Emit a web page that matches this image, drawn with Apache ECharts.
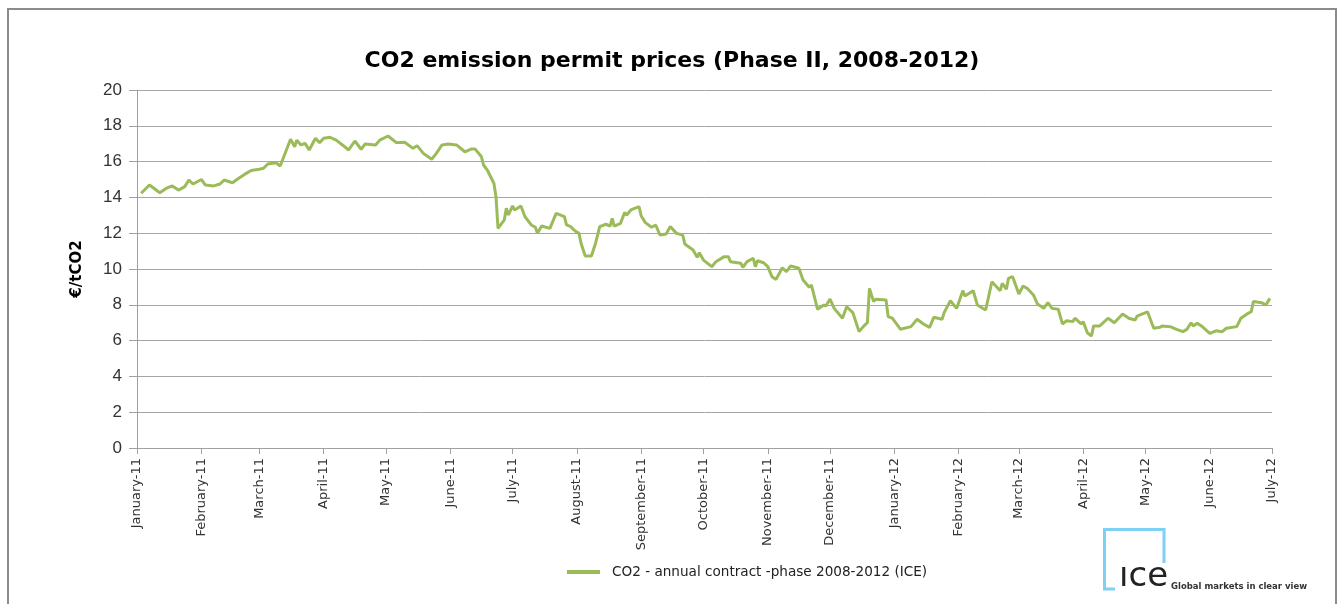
<!DOCTYPE html>
<html>
<head>
<meta charset="utf-8">
<script src="https://cdn.jsdelivr.net/npm/echarts@6/dist/echarts.min.js"></script>
<style>
html,body{margin:0;padding:0;background:#fff;}
#chart{width:1344px;height:604px;}
</style>
</head>
<body>
<div id="chart"></div>
<script>
const seriesName = 'CO2 - annual contract -phase 2008-2012 (ICE)';
const monthLabels = ['January-11','February-11','March-11','April-11','May-11','June-11','July-11','August-11','September-11','October-11','November-11','December-11','January-12','February-12','March-12','April-12','May-12','June-12','July-12'];
const yTicks = [0,2,4,6,8,10,12,14,16,18,20];
const dates = [
'2011-01-03','2011-01-07','2011-01-12','2011-01-15','2011-01-18','2011-01-21','2011-01-24','2011-01-26','2011-01-28',
'2011-02-01','2011-02-03','2011-02-07','2011-02-10','2011-02-12','2011-02-16','2011-02-19','2011-02-22','2011-02-25',
'2011-03-01','2011-03-03','2011-03-05','2011-03-09','2011-03-11','2011-03-14','2011-03-16','2011-03-18','2011-03-19','2011-03-21','2011-03-23','2011-03-25','2011-03-28','2011-03-30',
'2011-04-01','2011-04-04','2011-04-07','2011-04-10','2011-04-13','2011-04-16','2011-04-19','2011-04-21','2011-04-26','2011-04-28',
'2011-05-02','2011-05-06','2011-05-10','2011-05-14','2011-05-16','2011-05-19','2011-05-23','2011-05-25','2011-05-28','2011-05-31',
'2011-06-04','2011-06-08','2011-06-11','2011-06-13','2011-06-16','2011-06-17','2011-06-19','2011-06-20','2011-06-22','2011-06-23','2011-06-24','2011-06-27','2011-06-28','2011-06-29',
'2011-07-01','2011-07-02','2011-07-05','2011-07-07','2011-07-10','2011-07-12','2011-07-13','2011-07-15','2011-07-19','2011-07-22','2011-07-26','2011-07-27','2011-07-29','2011-07-31',
'2011-08-02','2011-08-03','2011-08-05','2011-08-08','2011-08-10','2011-08-12','2011-08-15','2011-08-17','2011-08-18','2011-08-19','2011-08-22','2011-08-24','2011-08-25','2011-08-27','2011-08-31',
'2011-09-01','2011-09-03','2011-09-06','2011-09-08','2011-09-10','2011-09-13','2011-09-15','2011-09-18','2011-09-21','2011-09-22','2011-09-26','2011-09-28','2011-09-29',
'2011-10-01','2011-10-05','2011-10-07','2011-10-11','2011-10-13','2011-10-14','2011-10-19','2011-10-20','2011-10-22','2011-10-25','2011-10-26','2011-10-27','2011-10-30',
'2011-11-01','2011-11-03','2011-11-05','2011-11-08','2011-11-10','2011-11-12','2011-11-16','2011-11-18','2011-11-21','2011-11-22','2011-11-25','2011-11-28','2011-11-29',
'2011-12-01','2011-12-03','2011-12-07','2011-12-09','2011-12-12','2011-12-15','2011-12-17','2011-12-19','2011-12-20','2011-12-22','2011-12-23','2011-12-28','2011-12-29','2011-12-31',
'2012-01-04','2012-01-09','2012-01-12','2012-01-15','2012-01-18','2012-01-20','2012-01-24','2012-01-25','2012-01-28','2012-01-31',
'2012-02-03','2012-02-04','2012-02-08','2012-02-10','2012-02-14','2012-02-17','2012-02-21','2012-02-22','2012-02-24','2012-02-25','2012-02-27',
'2012-03-01','2012-03-03','2012-03-05','2012-03-08','2012-03-10','2012-03-13','2012-03-15','2012-03-17','2012-03-20','2012-03-21','2012-03-22','2012-03-24','2012-03-27','2012-03-28','2012-03-31',
'2012-04-01','2012-04-03','2012-04-05','2012-04-06','2012-04-09','2012-04-13','2012-04-16','2012-04-20','2012-04-23','2012-04-26','2012-04-27',
'2012-05-02','2012-05-05','2012-05-08','2012-05-09','2012-05-13','2012-05-16','2012-05-19','2012-05-21','2012-05-23','2012-05-24','2012-05-26','2012-05-28',
'2012-06-01','2012-06-04','2012-06-07','2012-06-09','2012-06-14','2012-06-16','2012-06-19','2012-06-21','2012-06-22','2012-06-26','2012-06-28','2012-06-30'
];
const prices = [
14.23,14.69,14.26,14.50,14.64,14.41,14.60,14.97,14.75,
15.00,14.69,14.64,14.75,14.97,14.82,15.07,15.30,15.50,
15.57,15.63,15.87,15.94,15.75,16.65,17.25,16.83,17.20,16.93,17.02,16.65,17.30,17.06,
17.30,17.36,17.20,16.93,16.65,17.15,16.69,16.98,16.93,17.20,
17.43,17.06,17.08,16.74,16.89,16.46,16.13,16.42,16.93,16.98,
16.93,16.55,16.70,16.70,16.27,15.81,15.49,15.25,14.79,14.04,12.27,12.74,13.39,13.02,
13.52,13.30,13.52,12.92,12.46,12.33,12.00,12.40,12.27,13.11,12.92,12.46,12.37,12.14,
11.99,11.44,10.73,10.73,11.44,12.37,12.50,12.40,12.83,12.40,12.55,13.15,13.02,13.30,13.48,
12.96,12.59,12.33,12.46,11.90,11.96,12.37,11.99,11.90,11.40,11.06,10.65,10.91,
10.50,10.13,10.41,10.69,10.69,10.41,10.32,10.09,10.41,10.60,10.13,10.46,10.35,
10.13,9.57,9.42,10.07,9.85,10.17,10.04,9.39,8.98,9.11,7.75,7.99,7.93,
8.32,7.80,7.25,7.89,7.56,6.50,6.78,7.00,8.92,8.18,8.31,8.27,7.34,7.25,
6.63,6.78,7.19,6.93,6.74,7.30,7.19,7.56,8.23,7.80,
8.79,8.49,8.79,7.99,7.71,9.29,8.79,9.20,8.87,9.48,9.57,
8.60,9.05,8.92,8.55,8.04,7.80,8.12,7.80,7.75,7.34,6.93,7.11,7.06,7.25,6.93,
7.06,6.44,6.26,6.82,6.82,7.25,7.00,7.49,7.25,7.15,7.37,
7.61,6.69,6.74,6.82,6.78,6.63,6.50,6.63,7.00,6.82,6.97,6.82,
6.40,6.55,6.50,6.69,6.78,7.25,7.49,7.61,8.18,8.12,7.99,8.36
];

function toTime(s) { const p = s.split('-').map(Number); return Date.UTC(p[0], p[1] - 1, p[2]); }
const monthStarts = monthLabels.map((_, i) => Date.UTC(2011, i, 1));
const labelByTime = {};
monthStarts.forEach((t, i) => { labelByTime[t] = monthLabels[i]; });
const lineData = dates.map((d, i) => [toTime(d), prices[i]]);

const chart = echarts.init(document.getElementById('chart'));
chart.setOption({
  backgroundColor: '#fff',
  animation: false,
  title: {
    text: 'CO2 emission permit prices (Phase II, 2008-2012)',
    left: 'center', top: 45,
    textStyle: { fontFamily: 'DejaVu Sans', fontWeight: 'bold', fontSize: 22, color: '#000' }
  },
  legend: {
    data: [{ name: seriesName, icon: 'rect' }],
    left: 562, top: 560,
    itemWidth: 33, itemHeight: 4, itemGap: 10,
    textStyle: { fontFamily: 'DejaVu Sans', fontSize: 13.6, color: '#222', padding: [0, 0, 0, 7] }
  },
  grid: { left: 137, right: 72, top: 90, bottom: 156, containLabel: false },
  xAxis: {
    type: 'value',
    min: monthStarts[0],
    max: monthStarts[monthStarts.length - 1],
    axisLine: { show: true, lineStyle: { color: '#a0a0a0', width: 1 } },
    axisTick: { show: true, customValues: monthStarts, length: 6, lineStyle: { color: '#a0a0a0' } },
    axisLabel: {
      customValues: monthStarts,
      rotate: 90, margin: 10,
      fontFamily: 'DejaVu Sans', fontSize: 13, color: '#333',
      showMinLabel: true, showMaxLabel: true,
      formatter: (v) => labelByTime[v] || ''
    },
    splitLine: { show: false }
  },
  yAxis: {
    type: 'value',
    min: yTicks[0], max: yTicks[yTicks.length - 1], interval: 2,
    name: '€/tCO2', nameLocation: 'middle', nameGap: 52, nameRotate: 90,
    nameTextStyle: { fontFamily: 'DejaVu Sans', fontWeight: 'bold', fontSize: 15, color: '#000' },
    axisLine: { show: true, lineStyle: { color: '#a0a0a0', width: 1 } },
    axisTick: { show: true, length: 8, lineStyle: { color: '#a0a0a0' } },
    axisLabel: { margin: 15, fontFamily: 'Liberation Sans', fontSize: 17, color: '#333' },
    splitLine: { show: true, lineStyle: { color: '#a6a6a6', width: 1 } }
  },
  series: [{
    name: seriesName,
    type: 'line',
    data: lineData,
    showSymbol: false,
    symbol: 'none',
    lineStyle: { color: '#9bbb59', width: 3 },
    itemStyle: { color: '#9bbb59' }
  }],
  graphic: [
    { type: 'rect', shape: { x: 8, y: 9, width: 1328, height: 620 }, style: { fill: 'none', stroke: '#8c8c8c', lineWidth: 2 }, silent: true },
    { type: 'polyline', shape: { points: [[1115, 589], [1104.5, 589], [1104.5, 529.5], [1164, 529.5], [1164, 563]] }, style: { fill: 'none', stroke: '#7fd0f5', lineWidth: 3 }, silent: true },
    { type: 'text', left: 1119, top: 560, style: { text: 'ıce', fontFamily: 'DejaVu Sans', fontSize: 34, fill: '#222' }, silent: true },
    { type: 'text', left: 1171, top: 582, style: { text: 'Global markets in clear view', fontFamily: 'DejaVu Sans', fontWeight: 'bold', fontSize: 8.5, fill: '#333' }, silent: true }
  ]
});
</script>
</body>
</html>
